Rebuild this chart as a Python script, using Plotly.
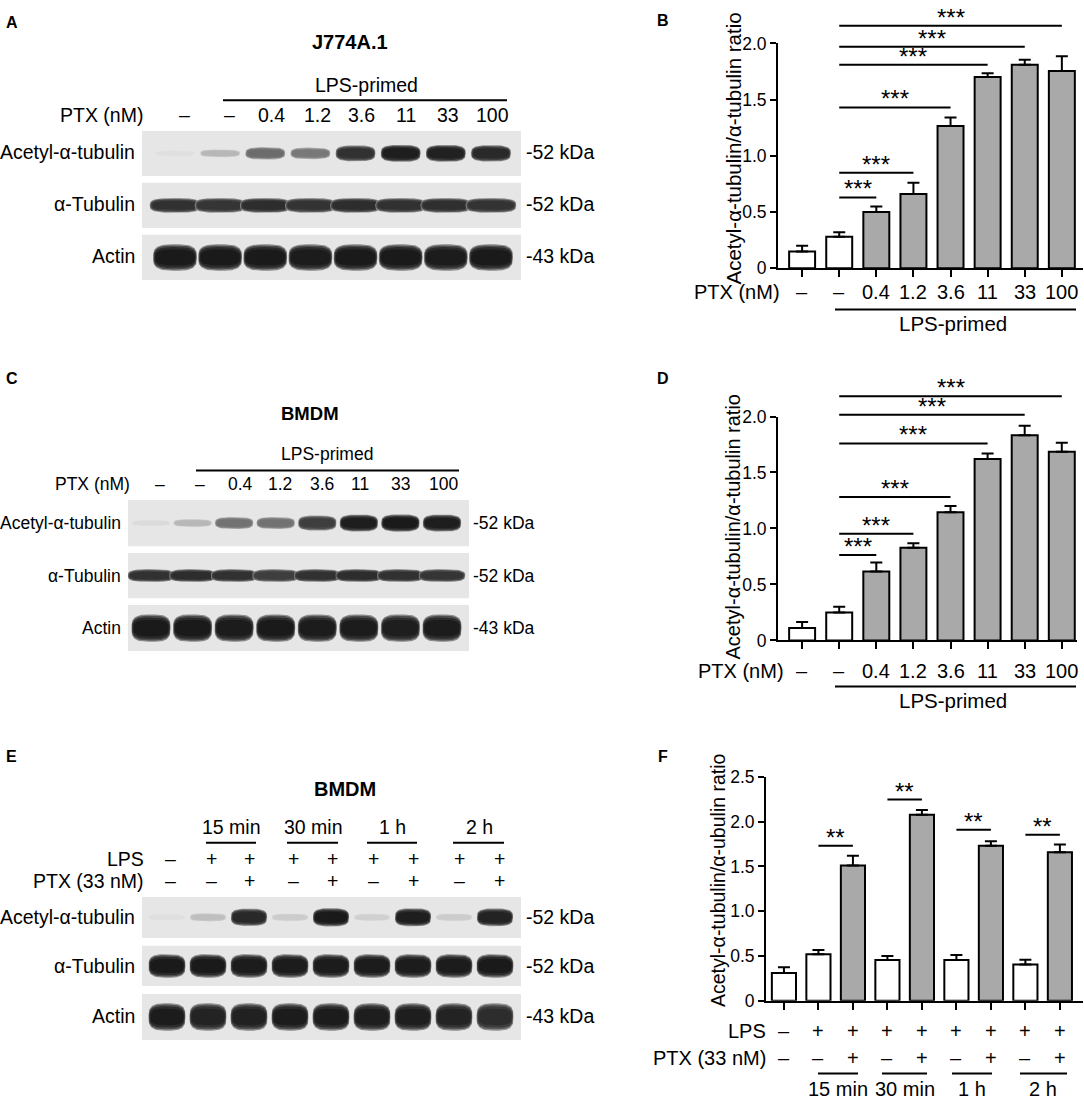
import numpy as np
import plotly.graph_objects as go

W, H = 1084, 1107
FONT = "Liberation Sans, Arial, Helvetica, sans-serif"

# ======================= DATA =======================
ptx_doses = ["–", "–", "0.4", "1.2", "3.6", "11", "33", "100"]
blot_rows = ["Acetyl-α-tubulin", "α-Tubulin", "Actin"]
blot_kda = ["-52 kDa", "-52 kDa", "-43 kDa"]

# Panel A (J774A.1) band intensities (0 = none, 1 = saturated)
a_acetyl = [0.03, 0.22, 0.58, 0.52, 0.86, 0.95, 0.94, 0.90]
a_tubulin = [0.86, 0.84, 0.88, 0.85, 0.88, 0.86, 0.87, 0.85]
a_actin = [0.97, 0.97, 0.97, 0.96, 0.97, 0.97, 0.96, 0.97]

# Panel C (BMDM) band intensities
c_acetyl = [0.05, 0.22, 0.55, 0.55, 0.80, 0.95, 0.97, 0.95]
c_tubulin = [0.86, 0.88, 0.86, 0.80, 0.86, 0.88, 0.86, 0.84]
c_actin = [0.97, 0.97, 0.96, 0.97, 0.96, 0.96, 0.95, 0.96]

# Panel E (BMDM, time course) band intensities
e_lps = ["–", "+", "+", "+", "+", "+", "+", "+", "+"]
e_ptx = ["–", "–", "+", "–", "+", "–", "+", "–", "+"]
e_times = ["15 min", "30 min", "1 h", "2 h"]
e_acetyl = [0.03, 0.18, 0.90, 0.12, 0.97, 0.10, 0.95, 0.12, 0.93]
e_tubulin = [0.97, 0.97, 0.96, 0.96, 0.96, 0.96, 0.96, 0.96, 0.97]
e_actin = [0.96, 0.93, 0.94, 0.96, 0.96, 0.95, 0.95, 0.93, 0.88]

# Panel B: acetyl/alpha-tubulin ratio, J774A.1
b_mean = [0.15, 0.28, 0.50, 0.66, 1.265, 1.70, 1.81, 1.755]
b_sem = [0.05, 0.04, 0.05, 0.10, 0.075, 0.035, 0.045, 0.13]
b_sig_end = [2, 3, 4, 5, 6, 7]
b_sig_y = [0.63, 0.85, 1.43, 1.81, 1.97, 2.157]

# Panel D: acetyl/alpha-tubulin ratio, BMDM
d_mean = [0.11, 0.25, 0.615, 0.827, 1.145, 1.62, 1.833, 1.686]
d_sem = [0.055, 0.05, 0.08, 0.04, 0.056, 0.05, 0.085, 0.08]
d_sig_end = [2, 3, 4, 5, 6, 7]
d_sig_y = [0.762, 0.953, 1.28, 1.76, 2.015, 2.18]

# Panel F: time course ratio
f_mean = [0.31, 0.52, 1.51, 0.455, 2.076, 0.455, 1.73, 0.404, 1.658]
f_sem = [0.065, 0.047, 0.11, 0.045, 0.055, 0.055, 0.05, 0.055, 0.087]
f_sig_pairs = [(1, 2), (3, 4), (5, 6), (7, 8)]
f_sig_y = [1.73, 2.247, 1.91, 1.855]

y_ticks_2 = [0, 0.5, 1.0, 1.5, 2.0]
y_ticks_25 = [0, 0.5, 1.0, 1.5, 2.0, 2.5]

# ======================= HELPERS =======================
def px(x):
    return x / W


def py(y):
    return 1 - y / H


fig = go.Figure()
annotations = []
shapes = []


def text(x, y, s, size=19.5, xanchor="center", bold=False, yanchor="middle", angle=0):
    annotations.append(dict(
        x=px(x), y=py(y), xref="paper", yref="paper", text=("<b>%s</b>" % s) if bold else s,
        showarrow=False, xanchor=xanchor, yanchor=yanchor, textangle=angle,
        font=dict(size=size, color="black", family=FONT)))


def hline(x0, x1, y, w=2):
    shapes.append(dict(type="line", xref="paper", yref="paper", x0=px(x0), x1=px(x1),
                       y0=py(y), y1=py(y), line=dict(color="black", width=w)))


# superellipse template for a band
_t = np.linspace(0, 2 * np.pi, 64)
_ux = np.sign(np.cos(_t)) * np.abs(np.cos(_t)) ** (2 / 3.2)
_uy = np.sign(np.sin(_t)) * np.abs(np.sin(_t)) ** (2 / 3.2)
BG = 229


def shade(i):
    v = int(round(BG - i * (BG - 20)))
    return "rgb(%d,%d,%d)" % (v, v, v)


def draw_blot(axn, intensities_rows, row_tops, row_h, hw_rows, hh_rows, xr):
    xa = "x" if axn == 1 else "x%d" % axn
    ya = "y" if axn == 1 else "y%d" % axn
    for top, h in zip(row_tops, row_h):
        shapes.append(dict(type="rect", xref=xa, yref=ya, x0=xr[0], x1=xr[1],
                           y0=top, y1=top + h, fillcolor="#e6e6e6",
                           line=dict(width=0), layer="below"))
    layers = [(1.0, 1.0, 0.45), (0.98, 0.9, 0.75), (0.95, 0.78, 0.92), (0.9, 0.6, 1.0)]
    for vals, top, h, hw, hhf in zip(intensities_rows, row_tops, row_h, hw_rows, hh_rows):
        yc = top + h / 2
        for lane, inten in enumerate(vals):
            hh = hhf(inten)
            for sx, sy, f in layers:
                fig.add_trace(go.Scatter(
                    x=lane + hw * sx * _ux, y=yc + hh * sy * _uy, mode="lines",
                    fill="toself", fillcolor=shade(inten * f), line=dict(width=0),
                    hoverinfo="skip", showlegend=False, xaxis=xa, yaxis=ya))


def acetyl_h(i):
    return 2.5 + 6.5 * i


# ======================= BLOTS =======================
# A
A_xr = [(142 - 175) / 45.14, (521 - 175) / 45.14]
draw_blot(1, [a_acetyl, a_tubulin, a_actin], [0, 53, 106], [46, 46, 46],
          [0.44, 0.56, 0.485], [acetyl_h, lambda i: 7.5, lambda i: 13.5], A_xr)
# C
C_xr = [(128 - 151) / 41.57, (469 - 151) / 41.57]
draw_blot(2, [c_acetyl, c_tubulin, c_actin], [0, 54, 107], [47, 46, 47],
          [0.46, 0.56, 0.47], [acetyl_h, lambda i: 6.5, lambda i: 14], C_xr)
# E
E_xr = [(142 - 167) / 41.0, (521 - 167) / 41.0]
draw_blot(3, [e_acetyl, e_tubulin, e_actin], [0, 50, 99], [42, 41, 47],
          [0.44, 0.45, 0.45], [lambda i: 3 + 6.5 * i, lambda i: 12, lambda i: 14], E_xr)

# blot texts
def blot_texts(rows_y, label_right, kda_left, size=19.5):
    for name, kda, yy in zip(blot_rows, blot_kda, rows_y):
        text(label_right, yy, name, xanchor="right", size=size)
        text(kda_left, yy, kda, xanchor="left", size=size)


# Panel A texts
text(4, 13, "A", size=16, bold=True, xanchor="left")
text(350, 33, "J774A.1", size=20, bold=True)
text(366, 76, "LPS-primed")
hline(223, 507, 92)
text(145, 107, "PTX (nM)", xanchor="right")
for lbl, xx in zip(ptx_doses, [184, 229, 271, 317, 362, 406, 448, 492]):
    text(xx, 107, lbl)
blot_texts([145, 198, 251], 137, 524)

# Panel C texts (panel drawn ~0.9x smaller)
CS = 17.5
text(4, 375, "C", size=16, bold=True, xanchor="left")
text(310, 411, "BMDM", size=18.5, bold=True)
text(327, 452, "LPS-primed", size=CS)
hline(196, 459, 469)
text(132, 483, "PTX (nM)", xanchor="right", size=CS)
for lbl, xx in zip(ptx_doses, [160, 200, 240, 280, 322, 360, 400, 443]):
    text(xx, 483, lbl, size=CS)
blot_texts([522, 576, 629], 123, 471, size=CS)

# Panel E texts
text(4, 760, "E", size=16, bold=True, xanchor="left")
text(345, 793, "BMDM", size=20, bold=True)
for lbl, xc, (x0, x1) in zip(e_times, [231, 313, 392, 479],
                             [(206, 256), (287, 338), (367, 417), (453, 504)]):
    text(xc, 832, lbl)
    hline(x0, x1, 848)
text(146, 865, "LPS", xanchor="right")
text(146, 887, "PTX (33 nM)", xanchor="right")
for l, p, xx in zip(e_lps, e_ptx, [170, 211, 249, 293, 332, 373, 413, 459, 499]):
    text(xx, 865, l)
    text(xx, 887, p)
blot_texts([924, 974, 1025], 137, 524)

# ======================= BAR CHARTS =======================
def bars(mean, sem, fills, xa_name, ya_name):
    fig.add_trace(go.Bar(
        x=list(range(len(mean))), y=mean, width=0.70,
        marker=dict(color=fills, line=dict(color="black", width=2)),
        error_y=dict(type="data", array=sem, arrayminus=[0] * len(sem), symmetric=False,
                     color="black", thickness=2, width=6),
        hoverinfo="skip", showlegend=False, xaxis=xa_name, yaxis=ya_name))


def sig(xa_name, ya_name, starts, ends, ys, stars):
    for s, e, yv in zip(starts, ends, ys):
        fig.add_trace(go.Scatter(x=[s, e], y=[yv, yv], mode="lines",
                                 line=dict(color="black", width=2), hoverinfo="skip",
                                 showlegend=False, xaxis=xa_name, yaxis=ya_name))
        annotations.append(dict(x=(s + e) / 2, y=yv, xref=xa_name, yref=ya_name, text=stars,
                                showarrow=False, yanchor="bottom", yshift=-7,
                                font=dict(size=24, color="black", family=FONT)))


GRAY = "#a9a9a9"
b_fill = ["white" if d == "–" else GRAY for d in ptx_doses]
f_fill = ["white" if p == "–" else GRAY for p in e_ptx]

bars(b_mean, b_sem, b_fill, "x4", "y4")
sig("x4", "y7", [1] * len(b_sig_end), b_sig_end, b_sig_y, "***")
bars(d_mean, d_sem, b_fill, "x5", "y5")
sig("x5", "y8", [1] * len(d_sig_end), d_sig_end, d_sig_y, "***")
bars(f_mean, f_sem, f_fill, "x6", "y6")
sig("x6", "y6", [p[0] for p in f_sig_pairs], [p[1] for p in f_sig_pairs], f_sig_y, "**")


def xlabel(i, y, lbl, xa):
    annotations.append(dict(x=i, y=py(y), xref=xa, yref="paper", text=lbl, showarrow=False,
                            yanchor="middle", font=dict(size=20, color="black", family=FONT)))


ratio_title = "Acetyl-α-tubulin/α-tubulin ratio"
# B
text(663, 11, "B", size=16, bold=True)
text(733, 141, ratio_title, angle=-90, size=20.5)
text(782, 287, "PTX (nM)", xanchor="right", size=20)
for i, lbl in enumerate(ptx_doses):
    xlabel(i, 287, lbl, "x4")
hline(835, 1076, 305)
text(953, 319, "LPS-primed", size=20.5)
# D
text(663, 375, "D", size=16, bold=True)
text(733, 527, ratio_title, angle=-90, size=20)
text(786, 673, "PTX (nM)", xanchor="right", size=20)
for i, lbl in enumerate(ptx_doses):
    xlabel(i, 673, lbl, "x5")
hline(835, 1076, 689)
text(953, 703, "LPS-primed", size=20.5)
# F
text(663, 760, "F", size=16, bold=True)
text(718, 886, "Acetyl-α-tubulin/α-ubulin ratio", angle=-90, size=19.5)
text(768, 1040, "LPS", xanchor="right", size=20)
text(768, 1067, "PTX (33 nM)", xanchor="right", size=20)
for i, (l, p) in enumerate(zip(e_lps, e_ptx)):
    xlabel(i, 1040, l, "x6")
    xlabel(i, 1067, p, "x6")
for lbl, xc, (x0, x1) in zip(e_times, [838, 905, 972, 1043],
                             [(818, 858), (882, 927), (952, 992), (1020, 1067)]):
    hline(x0, x1, 1083)
    text(xc, 1099, lbl, size=20)

# ======================= AXES =======================
def hidden(dom, rng, anchor):
    return dict(domain=dom, range=rng, anchor=anchor, visible=False, fixedrange=True)


def bar_x(dom, rng, anchor, n):
    return dict(domain=dom, range=rng, anchor=anchor, showline=True, linecolor="black", linewidth=2,
                ticks="outside", ticklen=7, tickwidth=2, tickcolor="black", tickvals=list(range(n)),
                showticklabels=False, showgrid=False, zeroline=False, fixedrange=True)


def bar_y(dom, rng, anchor, tv):
    return dict(domain=dom, range=rng, anchor=anchor, showline=True, linecolor="black", linewidth=2,
                ticks="outside", ticklen=6, tickwidth=2, tickcolor="black", tickvals=tv,
                ticktext=["0" if v == 0 else "%.1f" % v for v in tv],
                tickfont=dict(size=17.5, color="black", family=FONT),
                showgrid=False, zeroline=False, fixedrange=True)


layout = dict(
    width=W, height=H, margin=dict(l=0, r=0, t=0, b=0),
    paper_bgcolor="white", plot_bgcolor="rgba(0,0,0,0)", showlegend=False,
    font=dict(family=FONT, color="black"),
    xaxis=hidden([142 / W, 521 / W], A_xr, "y"),
    yaxis=hidden([py(275), py(123)], [152, 0], "x"),
    xaxis2=hidden([128 / W, 469 / W], C_xr, "y2"),
    yaxis2=hidden([py(653), py(499)], [154, 0], "x2"),
    xaxis3=hidden([142 / W, 521 / W], E_xr, "y3"),
    yaxis3=hidden([py(1049), py(903)], [146, 0], "x3"),
    xaxis4=bar_x([778 / W, 1083 / W], [-0.65, 7.57], "y4", 8),
    yaxis4=bar_y([py(263), py(34)], [0, 2], "x4", y_ticks_2),
    xaxis5=bar_x([778 / W, 1077 / W], [-0.65, 7.41], "y5", 8),
    yaxis5=bar_y([py(642), py(414)], [0, 2], "x5", y_ticks_2),
    xaxis6=bar_x([766 / W, 1083 / W], [-0.52, 8.67], "y6", 9),
    yaxis6=bar_y([py(1009), py(781)], [0, 2.5], "x6", y_ticks_25),
    yaxis7=hidden([py(263), 1.0], [0, 2 * 263 / 229], "x4"),
    yaxis8=hidden([py(642), py(372)], [0, 2 * 270 / 228], "x5"),
    annotations=annotations, shapes=shapes, bargap=0.3,
)
fig.update_layout(**layout)
fig.write_html("out.html", config={"displayModeBar": False},
               post_script="document.body.style.margin='0px';document.body.style.overflow='hidden';")
